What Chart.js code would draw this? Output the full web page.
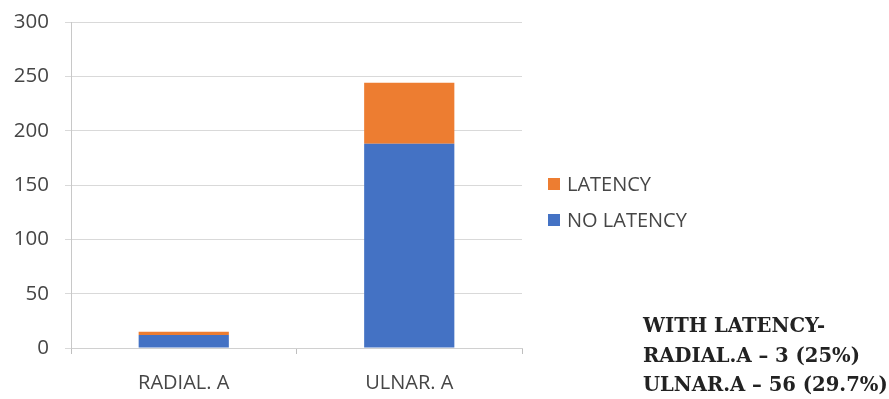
<!DOCTYPE html>
<html>
<head>
<meta charset="utf-8">
<script src="https://cdn.jsdelivr.net/npm/chart.js@4/dist/chart.umd.min.js"></script>
<style>
  html, body { margin: 0; padding: 0; background: #ffffff; }
  #wrap { position: relative; width: 889px; height: 399px; }
  #note {
    position: absolute; left: 643px; top: 311px;
    font-family: "DejaVu Serif", serif; font-weight: bold; font-size: 19.6px;
    line-height: 29.5px; color: #222222; white-space: nowrap;
  }
</style>
</head>
<body>
<div id="wrap">
  <canvas id="c" width="889" height="399"></canvas>
  <div id="note">WITH LATENCY-<br>RADIAL.A – 3 (25%)<br>ULNAR.A – 56 (29.7%)</div>
</div>
<script>
const categories = ["RADIAL. A", "ULNAR. A"];
const noLatency = [12, 188];
const latency = [3, 56];
const seriesNames = ["NO LATENCY", "LATENCY"];
const seriesColors = ["#4472C4", "#ED7D31"];

const TEXT = "#464646";
const FONT = "'Open Sans', sans-serif";

// Legend listed to the right of the plot, top series first
const sideLegend = {
  id: "sideLegend",
  afterDraw(chart) {
    const ctx = chart.ctx;
    const items = chart.data.datasets.map((d) => ({ label: d.label, color: d.backgroundColor })).reverse();
    ctx.save();
    ctx.font = "20px " + FONT;
    ctx.textBaseline = "middle";
    ctx.textAlign = "left";
    items.forEach((it, i) => {
      const y = 184 + i * 36;
      ctx.fillStyle = it.color;
      ctx.fillRect(548, y - 6, 12, 12);
      ctx.fillStyle = TEXT;
      ctx.fillText(it.label, 567, y + 1);
    });
    ctx.restore();
  }
};

new Chart(document.getElementById("c"), {
  type: "bar",
  data: {
    labels: categories,
    datasets: [
      { label: seriesNames[0], data: noLatency, backgroundColor: seriesColors[0] },
      { label: seriesNames[1], data: latency, backgroundColor: seriesColors[1] }
    ]
  },
  options: {
    responsive: false,
    animation: false,
    devicePixelRatio: 1,
    layout: { padding: { top: 22, right: 367, left: 0, bottom: 0 } },
    datasets: { bar: { barPercentage: 0.4, categoryPercentage: 1.0 } },
    plugins: { legend: { display: false }, tooltip: { enabled: false } },
    scales: {
      x: {
        stacked: true,
        afterFit(scale) { scale.height = 51; },
        grid: { offset: true, drawOnChartArea: false, drawTicks: true, tickLength: 6, color: "#bfbfbf" },
        border: { display: true, color: "#d0d0d0" },
        ticks: { color: TEXT, font: { family: FONT, size: 20 }, padding: 17 }
      },
      y: {
        stacked: true,
        min: 0, max: 300,
        afterFit(scale) { scale.width = 71; scale.paddingTop = 0; scale.paddingBottom = 0; },
        grid: { color: "#d9d9d9", tickLength: 6 },
        border: { display: true, color: "#c8c8c8" },
        ticks: { stepSize: 50, color: TEXT, font: { family: FONT, size: 20.5 }, padding: 16 }
      }
    }
  },
  plugins: [sideLegend]
});
</script>
</body>
</html>
